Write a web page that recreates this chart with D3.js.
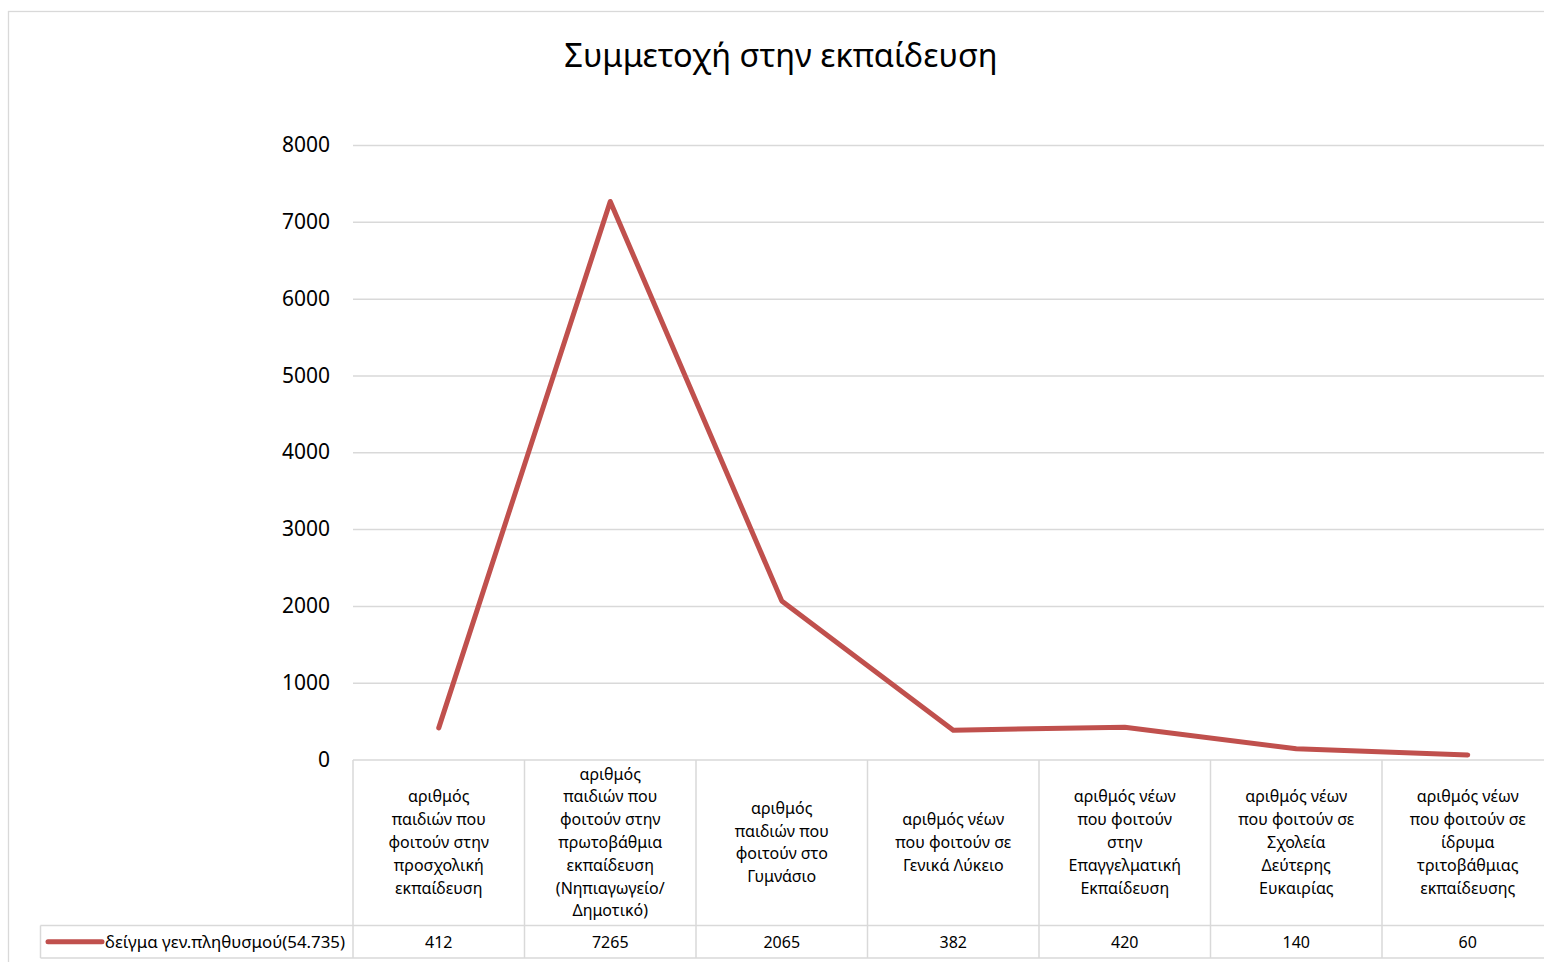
<!DOCTYPE html>
<html>
<head>
<meta charset="utf-8">
<script src="https://cdn.jsdelivr.net/npm/d3@7"></script>
<style>
  html, body { margin: 0; padding: 0; background: #fff; }
  svg { display: block; }
  text { font-family: "Noto Sans", "Open Sans", sans-serif; fill: #000; }
</style>
</head>
<body>
<svg id="chart" width="1544" height="962"></svg>
<script>
// ---- data ----
const title = "Συμμετοχή στην εκπαίδευση";
const categories = [
  "αριθμός\nπαιδιών που\nφοιτούν στην\nπροσχολική\nεκπαίδευση",
  "αριθμός\nπαιδιών που\nφοιτούν στην\nπρωτοβάθμια\nεκπαίδευση\n(Νηπιαγωγείο/\nΔημοτικό)",
  "αριθμός\nπαιδιών που\nφοιτούν στο\nΓυμνάσιο",
  "αριθμός νέων\nπου φοιτούν σε\nΓενικά Λύκειο",
  "αριθμός νέων\nπου φοιτούν\nστην\nΕπαγγελματική\nΕκπαίδευση",
  "αριθμός νέων\nπου φοιτούν σε\nΣχολεία\nΔεύτερης\nΕυκαιρίας",
  "αριθμός νέων\nπου φοιτούν σε\nίδρυμα\nτριτοβάθμιας\nεκπαίδευσης"
];
const seriesName = "δείγμα γεν.πληθυσμού(54.735)";
const values = [412, 7265, 2065, 382, 420, 140, 60];
const yTicks = [0, 1000, 2000, 3000, 4000, 5000, 6000, 7000, 8000];

// ---- layout ----
const svg = d3.select("#chart");
const lineColor = "#C0504D";
const gridColor = "#d9d9d9";
const plotLeft = 353, colW = 171.5;
const plotRight = plotLeft + colW * categories.length;
const yTop = 145, yBottom = 759.5;
const headerBottom = 925.5, rowBottom = 958;
const legendLeft = 40.5;

// outer border
svg.append("rect")
  .attr("x", 8.5).attr("y", 11.5)
  .attr("width", 1600).attr("height", 1000)
  .attr("fill", "#fff").attr("stroke", gridColor).attr("stroke-width", 1.3);

// title
svg.append("text")
  .attr("x", 781).attr("y", 67)
  .attr("text-anchor", "middle")
  .style("font-size", "32.5px")
  .text(title);

const x = d3.scaleBand().domain(categories).range([plotLeft, plotRight]).padding(0);
const y = d3.scaleLinear().domain([0, 8000]).range([yBottom, yTop]);

// y axis with gridlines
const yAxis = d3.axisLeft(y).tickValues(yTicks).tickSize(-(plotRight - plotLeft)).tickPadding(23)
  .tickFormat(d3.format("d"));
const gy = svg.append("g").attr("transform", `translate(${plotLeft},0)`).call(yAxis);
gy.select(".domain").remove();
gy.selectAll(".tick line").attr("stroke", gridColor).attr("stroke-width", 1.5)
  .filter(d => d === 0).remove();
gy.selectAll(".tick text").style("font-size", "21px").attr("fill", "#000")
  .style("font-family", "'Noto Sans', sans-serif");

// table lines
const tbl = svg.append("g").attr("stroke", gridColor).attr("stroke-width", 1.5).attr("fill", "none");
tbl.append("line").attr("x1", plotLeft).attr("x2", plotRight).attr("y1", yBottom + 0.5).attr("y2", yBottom + 0.5);
tbl.append("line").attr("x1", legendLeft).attr("x2", plotRight).attr("y1", headerBottom).attr("y2", headerBottom);
tbl.append("line").attr("x1", legendLeft).attr("x2", plotRight).attr("y1", rowBottom).attr("y2", rowBottom);
tbl.append("line").attr("x1", legendLeft).attr("x2", legendLeft).attr("y1", headerBottom).attr("y2", rowBottom);
const bounds = categories.map(c => x(c)).concat([plotRight]);
tbl.selectAll("line.v").data(bounds).enter().append("line").attr("class", "v")
  .attr("x1", d => d).attr("x2", d => d).attr("y1", yBottom + 0.5).attr("y2", rowBottom);

// category labels
const lh = 22.8;
const headerMid = (yBottom + headerBottom) / 2;
const cat = svg.append("g");
categories.forEach(c => {
  const lines = c.split("\n");
  const t = cat.append("text")
    .attr("text-anchor", "middle")
    .style("font-size", "16px");
  const y0 = headerMid - (lines.length - 1) * lh / 2 + 5.5;
  lines.forEach((ln, i) => {
    t.append("tspan").attr("x", x(c) + x.bandwidth() / 2).attr("y", y0 + i * lh).text(ln);
  });
});

// value row
svg.append("g").selectAll("text").data(values).enter().append("text")
  .attr("x", (d, i) => x(categories[i]) + x.bandwidth() / 2)
  .attr("y", (headerBottom + rowBottom) / 2 + 6)
  .attr("text-anchor", "middle")
  .style("font-size", "16px")
  .text(d => d);

// legend in row header
const ly = (headerBottom + rowBottom) / 2;
svg.append("line").attr("x1", 48).attr("x2", 102).attr("y1", ly).attr("y2", ly)
  .attr("stroke", lineColor).attr("stroke-width", 5).attr("stroke-linecap", "round");
svg.append("text").attr("x", 105).attr("y", ly + 6).style("font-size", "16.5px")
  .attr("textLength", 240).attr("lengthAdjust", "spacingAndGlyphs").text(seriesName);

// line
const line = d3.line()
  .x((d, i) => x(categories[i]) + x.bandwidth() / 2)
  .y(d => y(d));
svg.append("path").datum(values)
  .attr("d", line)
  .attr("fill", "none")
  .attr("stroke", lineColor)
  .attr("stroke-width", 5)
  .attr("stroke-linecap", "round")
  .attr("stroke-linejoin", "round");
</script>
</body>
</html>
